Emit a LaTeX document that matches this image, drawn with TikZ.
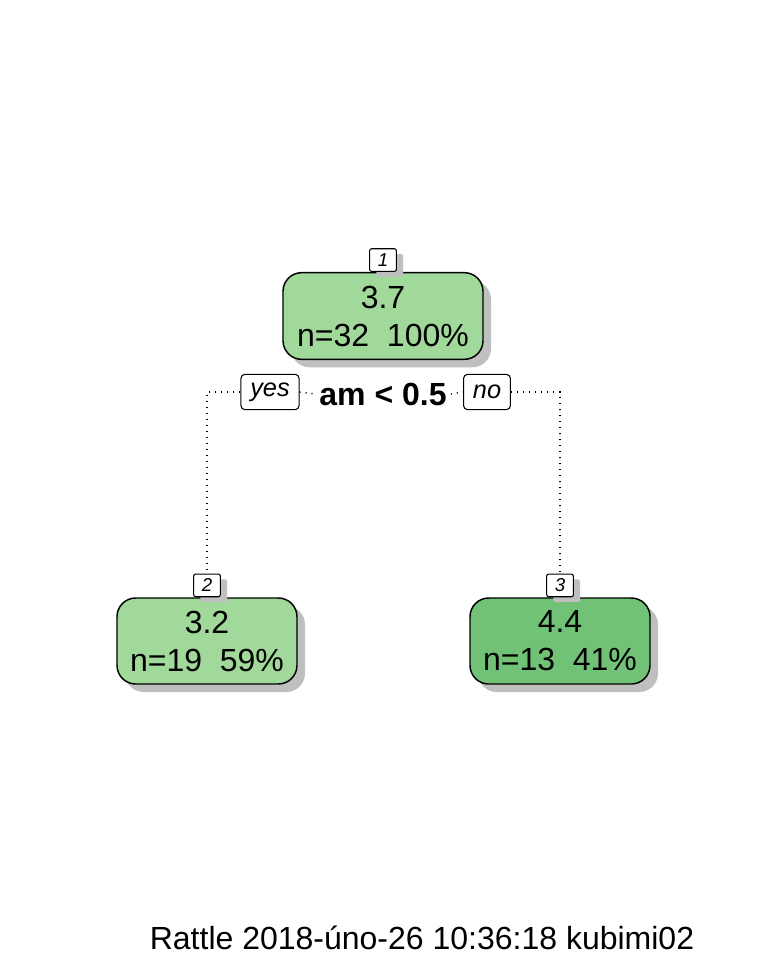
\documentclass[tikz,border=0pt]{standalone}
\usepackage{fontspec}
\setmainfont{Liberation Sans}
\usetikzlibrary{shapes,arrows,calc,shadows}
\definecolor{palegreen}{HTML}{A1D99B}
\definecolor{midgreen}{HTML}{71C277}
\tikzstyle{treebox} = [rectangle, draw, line width=1.1pt, rounded corners=14pt,
    align=center, font=\fontsize{24}{28.5}\selectfont,
    drop shadow={shadow xshift=6pt, shadow yshift=-6pt, fill=black!25, opacity=1}]
\tikzstyle{splitnode} = [treebox, fill=palegreen, minimum width=150pt, minimum height=65pt]
\tikzstyle{leafnode} = [treebox, minimum width=135pt, minimum height=64.5pt]
\tikzstyle{idbox} = [rectangle, draw, fill=white, line width=0.8pt, rounded corners=1.5pt,
    font=\fontsize{14}{16}\selectfont\itshape, minimum width=20pt, minimum height=17pt, inner sep=1pt,
    drop shadow={shadow xshift=5pt, shadow yshift=-4pt, fill=black!25, opacity=1}]
\tikzstyle{branch} = [rectangle, draw, fill=white, line width=0.8pt, rounded corners=3pt,
    font=\fontsize{19}{21}\selectfont\itshape, minimum height=26.5pt, inner xsep=7pt]
\tikzstyle{dotline} = [draw, line width=1pt, dash pattern=on 0.8pt off 3.7pt]

\begin{document}
\begin{tikzpicture}[x=0.75pt, y=-0.75pt]
    \useasboundingbox (0,0) rectangle (768,960);
    % Place nodes
    \node [splitnode] (root) at (383,316) {3.7\\n=32\ \ 100\%};
    \node [leafnode, fill=palegreen, below of=root, node distance=243.75pt, xshift=-132pt] (left) {3.2\\n=19\ \ 59\%};
    \node [leafnode, fill=midgreen, below of=root, node distance=243.75pt, xshift=132.75pt] (right) {4.4\\n=13\ \ 41\%};
    \node [idbox, anchor=south] (id1) at (root.north) {1};
    \node [idbox, anchor=south] (id2) at (left.north) {2};
    \node [idbox, anchor=south] (id3) at (right.north) {3};
    \node [below of=root, node distance=58.5pt, fill=white, inner xsep=3pt, minimum height=32pt,
        font=\fontsize{24}{26}\selectfont\bfseries] (rule) {am < 0.5};
    \node [branch, left of=rule, node distance=84.75pt, yshift=1.5pt] (yes) {yes};
    \node [branch, right of=rule, node distance=78pt, yshift=1.5pt] (no) {no};
    \node [font=\fontsize{24}{28}\selectfont] (stamp) at (422,938) {Rattle 2018-úno-26 10:36:18 kubimi02};
    % Draw edges
    \path [dotline] (yes.west) -| (id2.north);
    \path [dotline] (yes.east) -- (rule.west);
    \path [dotline] (rule.east) -- (no.west);
    \path [dotline] (no.east) -| (id3.north);
\end{tikzpicture}
\end{document}
